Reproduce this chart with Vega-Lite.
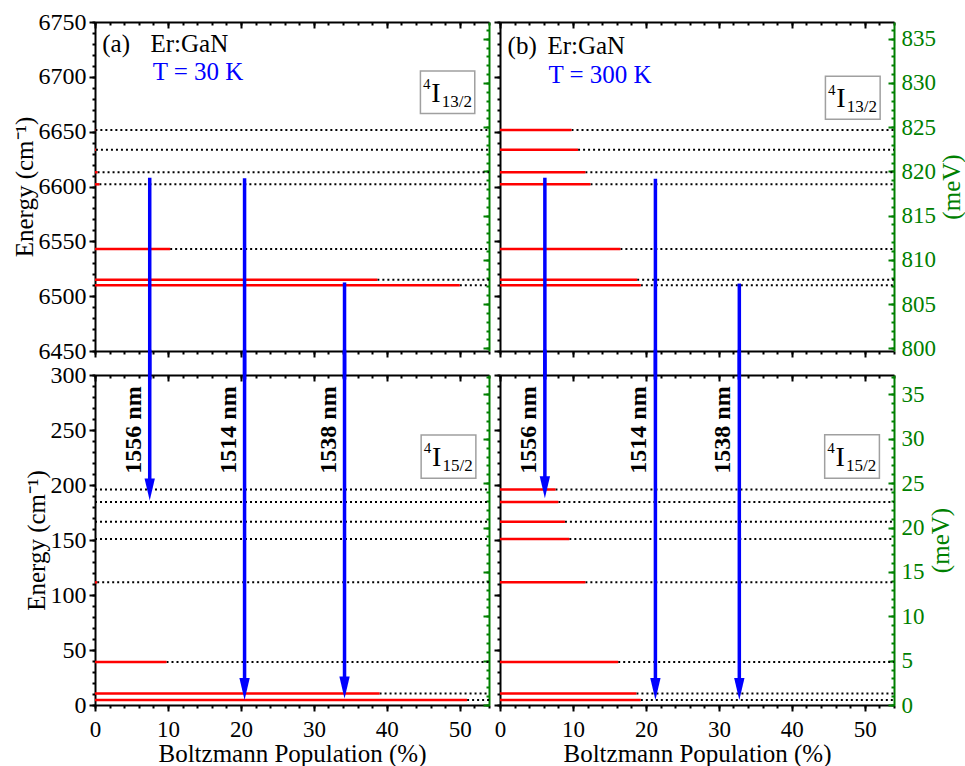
{
  "$schema": "https://vega.github.io/schema/vega-lite/v6.json",
  "padding": {"left": 12, "top": 10, "right": 0, "bottom": 0},
  "columns": 2,
  "spacing": {"row": 24, "column": 11},
  "bounds": "flush",
  "datasets": {
    "lvA_top": [{"e":6651.5,"pop":0.05},{"e":6633.5,"pop":0.13},{"e":6613,"pop":0.35},{"e":6602,"pop":0.6},{"e":6543,"pop":10.3},{"e":6515,"pop":38.7},{"e":6510,"pop":50.0}],
    "lvA_bot": [{"e":196,"pop":0},{"e":184.5,"pop":0},{"e":166.5,"pop":0},{"e":151,"pop":0},{"e":111.5,"pop":0.3},{"e":39,"pop":9.8},{"e":10.5,"pop":39.0},{"e":4.5,"pop":51.0}],
    "lvB_top": [{"e":6651.5,"pop":9.8},{"e":6633.5,"pop":10.7},{"e":6613,"pop":11.7},{"e":6602,"pop":12.4},{"e":6543,"pop":16.5},{"e":6515,"pop":18.8},{"e":6510,"pop":19.3}],
    "lvB_bot": [{"e":196,"pop":7.6},{"e":184.5,"pop":8.0},{"e":166.5,"pop":8.9},{"e":151,"pop":9.5},{"e":111.5,"pop":11.7},{"e":39,"pop":16.2},{"e":10.5,"pop":18.7},{"e":4.5,"pop":19.3}],
    "arrA": [{"x":7.5,"upper":6608,"lower":186,"label":"1556 nm"},{"x":20.5,"upper":6607.5,"lower":4.5,"label":"1514 nm"},{"x":34.2,"upper":6512.5,"lower":6,"label":"1538 nm"}],
    "arrB": [{"x":6.15,"upper":6608,"lower":188,"label":"1556 nm"},{"x":21.3,"upper":6607,"lower":4.5,"label":"1514 nm"},{"x":32.8,"upper":6511.5,"lower":4.5,"label":"1538 nm"}],
    "boxA_top": [{"x1":44.6,"x2":52.05,"y1":6705.3,"y2":6666.5,"term":"I","sup":"4","sub":"13/2"}],
    "boxB_top": [{"x1":44.6,"x2":52.1,"y1":6700.5,"y2":6661.3,"term":"I","sup":"4","sub":"13/2"}],
    "boxA_bot": [{"x1":44.7,"x2":52.2,"y1":245.5,"y2":206.1,"term":"I","sup":"4","sub":"15/2"}],
    "boxB_bot": [{"x1":44.5,"x2":52.0,"y1":245.7,"y2":206.1,"term":"I","sup":"4","sub":"15/2"}],
    "hdrA": [{"x":1.0,"y":6722.5,"t":"(a)"},{"x":7.6,"y":6722.5,"t":"Er:GaN"}],
    "tA": [{"x":7.9,"y":6697,"t":"T = 30 K"}],
    "hdrB": [{"x":1.04,"y":6721,"t":"(b)"},{"x":6.5,"y":6721,"t":"Er:GaN"}],
    "tB": [{"x":6.64,"y":6694,"t":"T = 300 K"}]
  },
  "concat": [
    {
      "width": 394, "height": 329,
      "layer": [
        {"data":{"name":"lvA_top"},"mark":{"type":"rule","color":"black","strokeWidth":2,"strokeDash":[2,3]},
         "encoding":{"x":{"field":"pop","type":"quantitative","scale":{"domain":[0,54],"nice":false,"zero":false},"axis":null},"x2":{"datum":54,"type":"quantitative"},"y":{"field":"e","type":"quantitative","scale":{"domain":[6450,6750],"nice":false,"zero":false},"axis":null}}},
        {"data":{"name":"lvA_top"},"mark":{"type":"rule","color":"#ff0000","strokeWidth":2.5},
         "encoding":{"x":{"field":"pop","type":"quantitative","scale":{"domain":[0,54],"nice":false,"zero":false},"axis":null},"x2":{"datum":0,"type":"quantitative"},"y":{"field":"e","type":"quantitative","scale":{"domain":[6450,6750],"nice":false,"zero":false},"axis":null}}},
        {"data":{"name":"arrA"},"mark":{"type":"rule","color":"#0000ff","strokeWidth":3.5},
         "encoding":{"x":{"field":"x","type":"quantitative","scale":{"domain":[0,54],"nice":false,"zero":false},"axis":null},"y":{"field":"upper","type":"quantitative","scale":{"domain":[6450,6750],"nice":false,"zero":false},"axis":null},"y2":{"datum":6424,"type":"quantitative"}}},
        {"data":{"name":"boxA_top"},"mark":{"type":"rect","fill":"white","stroke":"#a0a0a0","strokeWidth":1.5},
         "encoding":{"x":{"field":"x1","type":"quantitative","scale":{"domain":[0,54],"nice":false,"zero":false},"axis":null},"x2":{"field":"x2"},"y":{"field":"y1","type":"quantitative","scale":{"domain":[6450,6750],"nice":false,"zero":false},"axis":null},"y2":{"field":"y2"}}},
        {"data":{"name":"boxA_top"},"mark":{"type":"text","font":"Liberation Serif","fontSize":28,"align":"center","baseline":"alphabetic","dx":15.5,"dy":31,"color":"black"},
         "encoding":{"x":{"field":"x1","type":"quantitative","scale":{"domain":[0,54],"nice":false,"zero":false},"axis":null},"y":{"field":"y1","type":"quantitative","scale":{"domain":[6450,6750],"nice":false,"zero":false},"axis":null},"text":{"field":"term","type":"nominal"}}},
        {"data":{"name":"boxA_top"},"mark":{"type":"text","font":"Liberation Serif","fontSize":15,"align":"right","baseline":"alphabetic","dx":10,"dy":18.3,"color":"black"},
         "encoding":{"x":{"field":"x1","type":"quantitative","scale":{"domain":[0,54],"nice":false,"zero":false},"axis":null},"y":{"field":"y1","type":"quantitative","scale":{"domain":[6450,6750],"nice":false,"zero":false},"axis":null},"text":{"field":"sup","type":"nominal"}}},
        {"data":{"name":"boxA_top"},"mark":{"type":"text","font":"Liberation Serif","fontSize":17,"align":"left","baseline":"alphabetic","dx":21.3,"dy":35.8,"color":"black"},
         "encoding":{"x":{"field":"x1","type":"quantitative","scale":{"domain":[0,54],"nice":false,"zero":false},"axis":null},"y":{"field":"y1","type":"quantitative","scale":{"domain":[6450,6750],"nice":false,"zero":false},"axis":null},"text":{"field":"sub","type":"nominal"}}},
        {"data":{"name":"hdrA"},"mark":{"type":"text","font":"Liberation Serif","fontSize":25,"align":"left","baseline":"alphabetic","color":"black"},
         "encoding":{"x":{"field":"x","type":"quantitative","scale":{"domain":[0,54],"nice":false,"zero":false},"axis":null},"y":{"field":"y","type":"quantitative","scale":{"domain":[6450,6750],"nice":false,"zero":false},"axis":null},"text":{"field":"t","type":"nominal"}}},
        {"data":{"name":"tA"},"mark":{"type":"text","font":"Liberation Serif","fontSize":25,"align":"left","baseline":"alphabetic","color":"#0000ff"},
         "encoding":{"x":{"field":"x","type":"quantitative","scale":{"domain":[0,54],"nice":false,"zero":false},"axis":null},"y":{"field":"y","type":"quantitative","scale":{"domain":[6450,6750],"nice":false,"zero":false},"axis":null},"text":{"field":"t","type":"nominal"}}},
        {"data":{"values":[{}]},"mark":{"type":"point","opacity":0},
         "encoding":{"x":{"datum":0,"type":"quantitative","scale":{"domain":[0,54],"nice":false,"zero":false},"axis":{"orient":"bottom","values":[0,10,20,30,40,50],"labels":false,"tickSize":6,"title":null}},
                     "y":{"datum":6450,"type":"quantitative","scale":{"domain":[6450,6750],"nice":false,"zero":false},"axis":{"orient":"left","values":[6450,6500,6550,6600,6650,6700,6750],"format":"d","labelFont":"Liberation Serif","labelFontSize":24,"titleFont":"Liberation Serif","tickSize":6,"labelPadding":3,"title":"Energy (cm⁻¹)","titlePadding":1}}}},
        {"data":{"values":[{}]},"mark":{"type":"point","opacity":0},
         "encoding":{"x":{"datum":0,"type":"quantitative","scale":{"domain":[0,54],"nice":false,"zero":false},"axis":{"orient":"bottom","values":[0,2,4,6,8,10,12,14,16,18,20,22,24,26,28,30,32,34,36,38,40,42,44,46,48,50,52,54],"labels":false,"domain":false,"tickSize":3,"title":null}},
                     "y":{"datum":6450,"type":"quantitative","scale":{"domain":[6450,6750],"nice":false,"zero":false},"axis":{"orient":"left","values":[6450,6460,6470,6480,6490,6500,6510,6520,6530,6540,6550,6560,6570,6580,6590,6600,6610,6620,6630,6640,6650,6660,6670,6680,6690,6700,6710,6720,6730,6740,6750],"labels":false,"domain":false,"tickSize":3,"title":null}}}},
        {"data":{"values":[{}]},"mark":{"type":"point","opacity":0},
         "encoding":{"x":{"datum":0,"type":"quantitative","scale":{"domain":[0,54],"nice":false,"zero":false},"axis":{"orient":"top","values":[0,10,20,30,40,50],"labels":false,"tickSize":-6,"title":null}},
                     "y":{"datum":6450,"type":"quantitative","scale":{"domain":[6450,6750],"nice":false,"zero":false},"axis":{"orient":"right","values":[6452.435,6492.763,6533.091,6573.418,6613.746,6654.074,6694.402,6734.729],"labels":false,"tickSize":-6,"domainColor":"#008000","tickColor":"#008000","title":null}}}},
        {"data":{"values":[{}]},"mark":{"type":"point","opacity":0},
         "encoding":{"x":{"datum":0,"type":"quantitative","scale":{"domain":[0,54],"nice":false,"zero":false},"axis":{"orient":"top","values":[0,2,4,6,8,10,12,14,16,18,20,22,24,26,28,30,32,34,36,38,40,42,44,46,48,50,52,54],"labels":false,"domain":false,"tickSize":-3,"title":null}},
                     "y":{"datum":6450,"type":"quantitative","scale":{"domain":[6450,6750],"nice":false,"zero":false},"axis":{"orient":"right","values":[6452.435,6460.501,6468.566,6476.632,6484.697,6492.763,6500.828,6508.894,6516.96,6525.025,6533.091,6541.156,6549.222,6557.287,6565.353,6573.418,6581.484,6589.549,6597.615,6605.681,6613.746,6621.812,6629.877,6637.943,6646.008,6654.074,6662.139,6670.205,6678.271,6686.336,6694.402,6702.467,6710.533,6718.598,6726.664,6734.729,6742.795],"labels":false,"domain":false,"tickSize":-3,"tickColor":"#008000","title":null}}}}
      ],
      "resolve": {"axis": {"x": "independent", "y": "independent"}}
    },
    {
      "width": 394, "height": 329,
      "layer": [
        {"data":{"name":"lvB_top"},"mark":{"type":"rule","color":"black","strokeWidth":2,"strokeDash":[2,3]},
         "encoding":{"x":{"field":"pop","type":"quantitative","scale":{"domain":[0,54],"nice":false,"zero":false},"axis":null},"x2":{"datum":54,"type":"quantitative"},"y":{"field":"e","type":"quantitative","scale":{"domain":[6450,6750],"nice":false,"zero":false},"axis":null}}},
        {"data":{"name":"lvB_top"},"mark":{"type":"rule","color":"#ff0000","strokeWidth":2.5},
         "encoding":{"x":{"field":"pop","type":"quantitative","scale":{"domain":[0,54],"nice":false,"zero":false},"axis":null},"x2":{"datum":0,"type":"quantitative"},"y":{"field":"e","type":"quantitative","scale":{"domain":[6450,6750],"nice":false,"zero":false},"axis":null}}},
        {"data":{"name":"arrB"},"mark":{"type":"rule","color":"#0000ff","strokeWidth":3.5},
         "encoding":{"x":{"field":"x","type":"quantitative","scale":{"domain":[0,54],"nice":false,"zero":false},"axis":null},"y":{"field":"upper","type":"quantitative","scale":{"domain":[6450,6750],"nice":false,"zero":false},"axis":null},"y2":{"datum":6424,"type":"quantitative"}}},
        {"data":{"name":"boxB_top"},"mark":{"type":"rect","fill":"white","stroke":"#a0a0a0","strokeWidth":1.5},
         "encoding":{"x":{"field":"x1","type":"quantitative","scale":{"domain":[0,54],"nice":false,"zero":false},"axis":null},"x2":{"field":"x2"},"y":{"field":"y1","type":"quantitative","scale":{"domain":[6450,6750],"nice":false,"zero":false},"axis":null},"y2":{"field":"y2"}}},
        {"data":{"name":"boxB_top"},"mark":{"type":"text","font":"Liberation Serif","fontSize":28,"align":"center","baseline":"alphabetic","dx":15.5,"dy":31,"color":"black"},
         "encoding":{"x":{"field":"x1","type":"quantitative","scale":{"domain":[0,54],"nice":false,"zero":false},"axis":null},"y":{"field":"y1","type":"quantitative","scale":{"domain":[6450,6750],"nice":false,"zero":false},"axis":null},"text":{"field":"term","type":"nominal"}}},
        {"data":{"name":"boxB_top"},"mark":{"type":"text","font":"Liberation Serif","fontSize":15,"align":"right","baseline":"alphabetic","dx":10,"dy":18.3,"color":"black"},
         "encoding":{"x":{"field":"x1","type":"quantitative","scale":{"domain":[0,54],"nice":false,"zero":false},"axis":null},"y":{"field":"y1","type":"quantitative","scale":{"domain":[6450,6750],"nice":false,"zero":false},"axis":null},"text":{"field":"sup","type":"nominal"}}},
        {"data":{"name":"boxB_top"},"mark":{"type":"text","font":"Liberation Serif","fontSize":17,"align":"left","baseline":"alphabetic","dx":21.3,"dy":35.8,"color":"black"},
         "encoding":{"x":{"field":"x1","type":"quantitative","scale":{"domain":[0,54],"nice":false,"zero":false},"axis":null},"y":{"field":"y1","type":"quantitative","scale":{"domain":[6450,6750],"nice":false,"zero":false},"axis":null},"text":{"field":"sub","type":"nominal"}}},
        {"data":{"name":"hdrB"},"mark":{"type":"text","font":"Liberation Serif","fontSize":25,"align":"left","baseline":"alphabetic","color":"black"},
         "encoding":{"x":{"field":"x","type":"quantitative","scale":{"domain":[0,54],"nice":false,"zero":false},"axis":null},"y":{"field":"y","type":"quantitative","scale":{"domain":[6450,6750],"nice":false,"zero":false},"axis":null},"text":{"field":"t","type":"nominal"}}},
        {"data":{"name":"tB"},"mark":{"type":"text","font":"Liberation Serif","fontSize":25,"align":"left","baseline":"alphabetic","color":"#0000ff"},
         "encoding":{"x":{"field":"x","type":"quantitative","scale":{"domain":[0,54],"nice":false,"zero":false},"axis":null},"y":{"field":"y","type":"quantitative","scale":{"domain":[6450,6750],"nice":false,"zero":false},"axis":null},"text":{"field":"t","type":"nominal"}}},
        {"data":{"values":[{}]},"mark":{"type":"point","opacity":0},
         "encoding":{"x":{"datum":0,"type":"quantitative","scale":{"domain":[0,54],"nice":false,"zero":false},"axis":{"orient":"bottom","values":[0,10,20,30,40,50],"labels":false,"tickSize":6,"title":null}},
                     "y":{"datum":6450,"type":"quantitative","scale":{"domain":[6450,6750],"nice":false,"zero":false},"axis":{"orient":"left","values":[6450,6500,6550,6600,6650,6700,6750],"labels":false,"tickSize":6,"title":null}}}},
        {"data":{"values":[{}]},"mark":{"type":"point","opacity":0},
         "encoding":{"x":{"datum":0,"type":"quantitative","scale":{"domain":[0,54],"nice":false,"zero":false},"axis":{"orient":"bottom","values":[0,2,4,6,8,10,12,14,16,18,20,22,24,26,28,30,32,34,36,38,40,42,44,46,48,50,52,54],"labels":false,"domain":false,"tickSize":3,"title":null}},
                     "y":{"datum":6450,"type":"quantitative","scale":{"domain":[6450,6750],"nice":false,"zero":false},"axis":{"orient":"left","values":[6450,6460,6470,6480,6490,6500,6510,6520,6530,6540,6550,6560,6570,6580,6590,6600,6610,6620,6630,6640,6650,6660,6670,6680,6690,6700,6710,6720,6730,6740,6750],"labels":false,"domain":false,"tickSize":3,"title":null}}}},
        {"data":{"values":[{}]},"mark":{"type":"point","opacity":0},
         "encoding":{"x":{"datum":0,"type":"quantitative","scale":{"domain":[0,54],"nice":false,"zero":false},"axis":{"orient":"top","values":[0,10,20,30,40,50],"labels":false,"tickSize":-6,"title":null}},
                     "y":{"datum":6450,"type":"quantitative","scale":{"domain":[6450,6750],"nice":false,"zero":false},"axis":{"orient":"right","values":[6452.435,6492.763,6533.091,6573.418,6613.746,6654.074,6694.402,6734.729],"labelExpr":"format(datum.value / 8.065544, '.0f')","labelFont":"Liberation Serif","titleFont":"Liberation Serif","tickSize":-6,"labelPadding":13,"labelFontSize":23,"labelColor":"#008000","domainColor":"#008000","tickColor":"#008000","title":"(meV)","titleColor":"#008000","titleAngle":270,"titleBaseline":"top","titlePadding":4}}}},
        {"data":{"values":[{}]},"mark":{"type":"point","opacity":0},
         "encoding":{"x":{"datum":0,"type":"quantitative","scale":{"domain":[0,54],"nice":false,"zero":false},"axis":{"orient":"top","values":[0,2,4,6,8,10,12,14,16,18,20,22,24,26,28,30,32,34,36,38,40,42,44,46,48,50,52,54],"labels":false,"domain":false,"tickSize":-3,"title":null}},
                     "y":{"datum":6450,"type":"quantitative","scale":{"domain":[6450,6750],"nice":false,"zero":false},"axis":{"orient":"right","values":[6452.435,6460.501,6468.566,6476.632,6484.697,6492.763,6500.828,6508.894,6516.96,6525.025,6533.091,6541.156,6549.222,6557.287,6565.353,6573.418,6581.484,6589.549,6597.615,6605.681,6613.746,6621.812,6629.877,6637.943,6646.008,6654.074,6662.139,6670.205,6678.271,6686.336,6694.402,6702.467,6710.533,6718.598,6726.664,6734.729,6742.795],"labels":false,"domain":false,"tickSize":-3,"tickColor":"#008000","title":null}}}}
      ],
      "resolve": {"axis": {"x": "independent", "y": "independent"}}
    },
    {
      "width": 394, "height": 330,
      "layer": [
        {"data":{"name":"lvA_bot"},"mark":{"type":"rule","color":"black","strokeWidth":2,"strokeDash":[2,3]},
         "encoding":{"x":{"field":"pop","type":"quantitative","scale":{"domain":[0,54],"nice":false,"zero":false},"axis":null},"x2":{"datum":54,"type":"quantitative"},"y":{"field":"e","type":"quantitative","scale":{"domain":[0,300],"nice":false,"zero":false},"axis":null}}},
        {"data":{"name":"lvA_bot"},"mark":{"type":"rule","color":"#ff0000","strokeWidth":2.5},
         "encoding":{"x":{"field":"pop","type":"quantitative","scale":{"domain":[0,54],"nice":false,"zero":false},"axis":null},"x2":{"datum":0,"type":"quantitative"},"y":{"field":"e","type":"quantitative","scale":{"domain":[0,300],"nice":false,"zero":false},"axis":null}}},
        {"data":{"name":"arrA"},"mark":{"type":"rule","color":"#0000ff","strokeWidth":3.5,"yOffset":-10},
         "encoding":{"x":{"field":"x","type":"quantitative","scale":{"domain":[0,54],"nice":false,"zero":false},"axis":null},"y":{"field":"lower","type":"quantitative","scale":{"domain":[0,300],"nice":false,"zero":false},"axis":null},"y2":{"datum":323,"type":"quantitative"}}},
        {"data":{"name":"arrA"},"mark":{"type":"point","shape":"M-0.47,-1L0.47,-1L0,1Z","size":484,"filled":true,"color":"#0000ff","opacity":1,"strokeWidth":0,"yOffset":-11},
         "encoding":{"x":{"field":"x","type":"quantitative","scale":{"domain":[0,54],"nice":false,"zero":false},"axis":null},"y":{"field":"lower","type":"quantitative","scale":{"domain":[0,300],"nice":false,"zero":false},"axis":null}}},
        {"data":{"name":"arrA"},"mark":{"type":"text","font":"Liberation Serif","fontSize":24,"fontWeight":"bold","angle":270,"align":"center","baseline":"alphabetic","dy":-9,"color":"black"},
         "encoding":{"x":{"field":"x","type":"quantitative","scale":{"domain":[0,54],"nice":false,"zero":false},"axis":null},"y":{"datum":250,"type":"quantitative","scale":{"domain":[0,300],"nice":false,"zero":false},"axis":null},"text":{"field":"label","type":"nominal"}}},
        {"data":{"name":"boxA_bot"},"mark":{"type":"rect","fill":"white","stroke":"#a0a0a0","strokeWidth":1.5},
         "encoding":{"x":{"field":"x1","type":"quantitative","scale":{"domain":[0,54],"nice":false,"zero":false},"axis":null},"x2":{"field":"x2"},"y":{"field":"y1","type":"quantitative","scale":{"domain":[0,300],"nice":false,"zero":false},"axis":null},"y2":{"field":"y2"}}},
        {"data":{"name":"boxA_bot"},"mark":{"type":"text","font":"Liberation Serif","fontSize":28,"align":"center","baseline":"alphabetic","dx":15.5,"dy":31,"color":"black"},
         "encoding":{"x":{"field":"x1","type":"quantitative","scale":{"domain":[0,54],"nice":false,"zero":false},"axis":null},"y":{"field":"y1","type":"quantitative","scale":{"domain":[0,300],"nice":false,"zero":false},"axis":null},"text":{"field":"term","type":"nominal"}}},
        {"data":{"name":"boxA_bot"},"mark":{"type":"text","font":"Liberation Serif","fontSize":15,"align":"right","baseline":"alphabetic","dx":10,"dy":18.3,"color":"black"},
         "encoding":{"x":{"field":"x1","type":"quantitative","scale":{"domain":[0,54],"nice":false,"zero":false},"axis":null},"y":{"field":"y1","type":"quantitative","scale":{"domain":[0,300],"nice":false,"zero":false},"axis":null},"text":{"field":"sup","type":"nominal"}}},
        {"data":{"name":"boxA_bot"},"mark":{"type":"text","font":"Liberation Serif","fontSize":17,"align":"left","baseline":"alphabetic","dx":21.3,"dy":35.8,"color":"black"},
         "encoding":{"x":{"field":"x1","type":"quantitative","scale":{"domain":[0,54],"nice":false,"zero":false},"axis":null},"y":{"field":"y1","type":"quantitative","scale":{"domain":[0,300],"nice":false,"zero":false},"axis":null},"text":{"field":"sub","type":"nominal"}}},
        {"data":{"values":[{}]},"mark":{"type":"point","opacity":0},
         "encoding":{"x":{"datum":0,"type":"quantitative","scale":{"domain":[0,54],"nice":false,"zero":false},"axis":{"orient":"bottom","values":[0,10,20,30,40,50],"format":"d","labelFont":"Liberation Serif","titleFont":"Liberation Serif","tickSize":6,"labelPadding":7,"labelFontSize":23,"title":"Boltzmann Population (%)","titlePadding":0}},
                     "y":{"datum":0,"type":"quantitative","scale":{"domain":[0,300],"nice":false,"zero":false},"axis":{"orient":"left","values":[0,50,100,150,200,250,300],"format":"d","labelFont":"Liberation Serif","labelFontSize":24,"titleFont":"Liberation Serif","tickSize":6,"labelPadding":3,"title":"Energy (cm⁻¹)","titlePadding":1}}}},
        {"data":{"values":[{}]},"mark":{"type":"point","opacity":0},
         "encoding":{"x":{"datum":0,"type":"quantitative","scale":{"domain":[0,54],"nice":false,"zero":false},"axis":{"orient":"bottom","values":[0,2,4,6,8,10,12,14,16,18,20,22,24,26,28,30,32,34,36,38,40,42,44,46,48,50,52,54],"labels":false,"domain":false,"tickSize":3,"title":null}},
                     "y":{"datum":0,"type":"quantitative","scale":{"domain":[0,300],"nice":false,"zero":false},"axis":{"orient":"left","values":[0,10,20,30,40,50,60,70,80,90,100,110,120,130,140,150,160,170,180,190,200,210,220,230,240,250,260,270,280,290,300],"labels":false,"domain":false,"tickSize":3,"title":null}}}},
        {"data":{"values":[{}]},"mark":{"type":"point","opacity":0},
         "encoding":{"x":{"datum":0,"type":"quantitative","scale":{"domain":[0,54],"nice":false,"zero":false},"axis":{"orient":"top","values":[0,10,20,30,40,50],"labels":false,"tickSize":-6,"title":null}},
                     "y":{"datum":0,"type":"quantitative","scale":{"domain":[0,300],"nice":false,"zero":false},"axis":{"orient":"right","values":[0,40.328,80.655,120.983,161.311,201.639,241.966,282.294],"labels":false,"tickSize":-6,"domainColor":"#008000","tickColor":"#008000","title":null}}}},
        {"data":{"values":[{}]},"mark":{"type":"point","opacity":0},
         "encoding":{"x":{"datum":0,"type":"quantitative","scale":{"domain":[0,54],"nice":false,"zero":false},"axis":{"orient":"top","values":[0,2,4,6,8,10,12,14,16,18,20,22,24,26,28,30,32,34,36,38,40,42,44,46,48,50,52,54],"labels":false,"domain":false,"tickSize":-3,"title":null}},
                     "y":{"datum":0,"type":"quantitative","scale":{"domain":[0,300],"nice":false,"zero":false},"axis":{"orient":"right","values":[0,8.066,16.131,24.197,32.262,40.328,48.393,56.459,64.524,72.59,80.655,88.721,96.787,104.852,112.918,120.983,129.049,137.114,145.18,153.245,161.311,169.376,177.442,185.508,193.573,201.639,209.704,217.77,225.835,233.901,241.966,250.032,258.097,266.163,274.229,282.294,290.36,298.425],"labels":false,"domain":false,"tickSize":-3,"tickColor":"#008000","title":null}}}}
      ],
      "resolve": {"axis": {"x": "independent", "y": "independent"}}
    },
    {
      "width": 394, "height": 330,
      "layer": [
        {"data":{"name":"lvB_bot"},"mark":{"type":"rule","color":"black","strokeWidth":2,"strokeDash":[2,3]},
         "encoding":{"x":{"field":"pop","type":"quantitative","scale":{"domain":[0,54],"nice":false,"zero":false},"axis":null},"x2":{"datum":54,"type":"quantitative"},"y":{"field":"e","type":"quantitative","scale":{"domain":[0,300],"nice":false,"zero":false},"axis":null}}},
        {"data":{"name":"lvB_bot"},"mark":{"type":"rule","color":"#ff0000","strokeWidth":2.5},
         "encoding":{"x":{"field":"pop","type":"quantitative","scale":{"domain":[0,54],"nice":false,"zero":false},"axis":null},"x2":{"datum":0,"type":"quantitative"},"y":{"field":"e","type":"quantitative","scale":{"domain":[0,300],"nice":false,"zero":false},"axis":null}}},
        {"data":{"name":"arrB"},"mark":{"type":"rule","color":"#0000ff","strokeWidth":3.5,"yOffset":-10},
         "encoding":{"x":{"field":"x","type":"quantitative","scale":{"domain":[0,54],"nice":false,"zero":false},"axis":null},"y":{"field":"lower","type":"quantitative","scale":{"domain":[0,300],"nice":false,"zero":false},"axis":null},"y2":{"datum":323,"type":"quantitative"}}},
        {"data":{"name":"arrB"},"mark":{"type":"point","shape":"M-0.47,-1L0.47,-1L0,1Z","size":484,"filled":true,"color":"#0000ff","opacity":1,"strokeWidth":0,"yOffset":-11},
         "encoding":{"x":{"field":"x","type":"quantitative","scale":{"domain":[0,54],"nice":false,"zero":false},"axis":null},"y":{"field":"lower","type":"quantitative","scale":{"domain":[0,300],"nice":false,"zero":false},"axis":null}}},
        {"data":{"name":"arrB"},"mark":{"type":"text","font":"Liberation Serif","fontSize":24,"fontWeight":"bold","angle":270,"align":"center","baseline":"alphabetic","dy":-9,"color":"black"},
         "encoding":{"x":{"field":"x","type":"quantitative","scale":{"domain":[0,54],"nice":false,"zero":false},"axis":null},"y":{"datum":250,"type":"quantitative","scale":{"domain":[0,300],"nice":false,"zero":false},"axis":null},"text":{"field":"label","type":"nominal"}}},
        {"data":{"name":"boxB_bot"},"mark":{"type":"rect","fill":"white","stroke":"#a0a0a0","strokeWidth":1.5},
         "encoding":{"x":{"field":"x1","type":"quantitative","scale":{"domain":[0,54],"nice":false,"zero":false},"axis":null},"x2":{"field":"x2"},"y":{"field":"y1","type":"quantitative","scale":{"domain":[0,300],"nice":false,"zero":false},"axis":null},"y2":{"field":"y2"}}},
        {"data":{"name":"boxB_bot"},"mark":{"type":"text","font":"Liberation Serif","fontSize":28,"align":"center","baseline":"alphabetic","dx":15.5,"dy":31,"color":"black"},
         "encoding":{"x":{"field":"x1","type":"quantitative","scale":{"domain":[0,54],"nice":false,"zero":false},"axis":null},"y":{"field":"y1","type":"quantitative","scale":{"domain":[0,300],"nice":false,"zero":false},"axis":null},"text":{"field":"term","type":"nominal"}}},
        {"data":{"name":"boxB_bot"},"mark":{"type":"text","font":"Liberation Serif","fontSize":15,"align":"right","baseline":"alphabetic","dx":10,"dy":18.3,"color":"black"},
         "encoding":{"x":{"field":"x1","type":"quantitative","scale":{"domain":[0,54],"nice":false,"zero":false},"axis":null},"y":{"field":"y1","type":"quantitative","scale":{"domain":[0,300],"nice":false,"zero":false},"axis":null},"text":{"field":"sup","type":"nominal"}}},
        {"data":{"name":"boxB_bot"},"mark":{"type":"text","font":"Liberation Serif","fontSize":17,"align":"left","baseline":"alphabetic","dx":21.3,"dy":35.8,"color":"black"},
         "encoding":{"x":{"field":"x1","type":"quantitative","scale":{"domain":[0,54],"nice":false,"zero":false},"axis":null},"y":{"field":"y1","type":"quantitative","scale":{"domain":[0,300],"nice":false,"zero":false},"axis":null},"text":{"field":"sub","type":"nominal"}}},
        {"data":{"values":[{}]},"mark":{"type":"point","opacity":0},
         "encoding":{"x":{"datum":0,"type":"quantitative","scale":{"domain":[0,54],"nice":false,"zero":false},"axis":{"orient":"bottom","values":[0,10,20,30,40,50],"format":"d","labelFont":"Liberation Serif","titleFont":"Liberation Serif","tickSize":6,"labelPadding":7,"labelFontSize":23,"title":"Boltzmann Population (%)","titlePadding":0}},
                     "y":{"datum":0,"type":"quantitative","scale":{"domain":[0,300],"nice":false,"zero":false},"axis":{"orient":"left","values":[0,50,100,150,200,250,300],"labels":false,"tickSize":6,"title":null}}}},
        {"data":{"values":[{}]},"mark":{"type":"point","opacity":0},
         "encoding":{"x":{"datum":0,"type":"quantitative","scale":{"domain":[0,54],"nice":false,"zero":false},"axis":{"orient":"bottom","values":[0,2,4,6,8,10,12,14,16,18,20,22,24,26,28,30,32,34,36,38,40,42,44,46,48,50,52,54],"labels":false,"domain":false,"tickSize":3,"title":null}},
                     "y":{"datum":0,"type":"quantitative","scale":{"domain":[0,300],"nice":false,"zero":false},"axis":{"orient":"left","values":[0,10,20,30,40,50,60,70,80,90,100,110,120,130,140,150,160,170,180,190,200,210,220,230,240,250,260,270,280,290,300],"labels":false,"domain":false,"tickSize":3,"title":null}}}},
        {"data":{"values":[{}]},"mark":{"type":"point","opacity":0},
         "encoding":{"x":{"datum":0,"type":"quantitative","scale":{"domain":[0,54],"nice":false,"zero":false},"axis":{"orient":"top","values":[0,10,20,30,40,50],"labels":false,"tickSize":-6,"title":null}},
                     "y":{"datum":0,"type":"quantitative","scale":{"domain":[0,300],"nice":false,"zero":false},"axis":{"orient":"right","values":[0,40.328,80.655,120.983,161.311,201.639,241.966,282.294],"labelExpr":"format(datum.value / 8.065544, '.0f')","labelFont":"Liberation Serif","titleFont":"Liberation Serif","tickSize":-6,"labelPadding":13,"labelFontSize":23,"labelColor":"#008000","domainColor":"#008000","tickColor":"#008000","title":"(meV)","titleColor":"#008000","titleAngle":270,"titleBaseline":"top","titlePadding":4}}}},
        {"data":{"values":[{}]},"mark":{"type":"point","opacity":0},
         "encoding":{"x":{"datum":0,"type":"quantitative","scale":{"domain":[0,54],"nice":false,"zero":false},"axis":{"orient":"top","values":[0,2,4,6,8,10,12,14,16,18,20,22,24,26,28,30,32,34,36,38,40,42,44,46,48,50,52,54],"labels":false,"domain":false,"tickSize":-3,"title":null}},
                     "y":{"datum":0,"type":"quantitative","scale":{"domain":[0,300],"nice":false,"zero":false},"axis":{"orient":"right","values":[0,8.066,16.131,24.197,32.262,40.328,48.393,56.459,64.524,72.59,80.655,88.721,96.787,104.852,112.918,120.983,129.049,137.114,145.18,153.245,161.311,169.376,177.442,185.508,193.573,201.639,209.704,217.77,225.835,233.901,241.966,250.032,258.097,266.163,274.229,282.294,290.36,298.425],"labels":false,"domain":false,"tickSize":-3,"tickColor":"#008000","title":null}}}}
      ],
      "resolve": {"axis": {"x": "independent", "y": "independent"}}
    }
  ],
  "config": {
    "view": {"stroke": null},
    "font": "Liberation Serif",
    "style": {"guide-label": {"font": "Liberation Serif"}, "guide-title": {"font": "Liberation Serif"}},
    "axis": {"grid": false, "labelFont": "Liberation Serif", "titleFont": "Liberation Serif", "labelFontSize": 24, "titleFontSize": 25, "titleFontWeight": "normal", "domainColor": "black", "domainWidth": 2, "tickColor": "black", "tickWidth": 2, "labelColor": "black", "titleColor": "black", "labelFlush": false, "labelOverlap": false}
  }
}
